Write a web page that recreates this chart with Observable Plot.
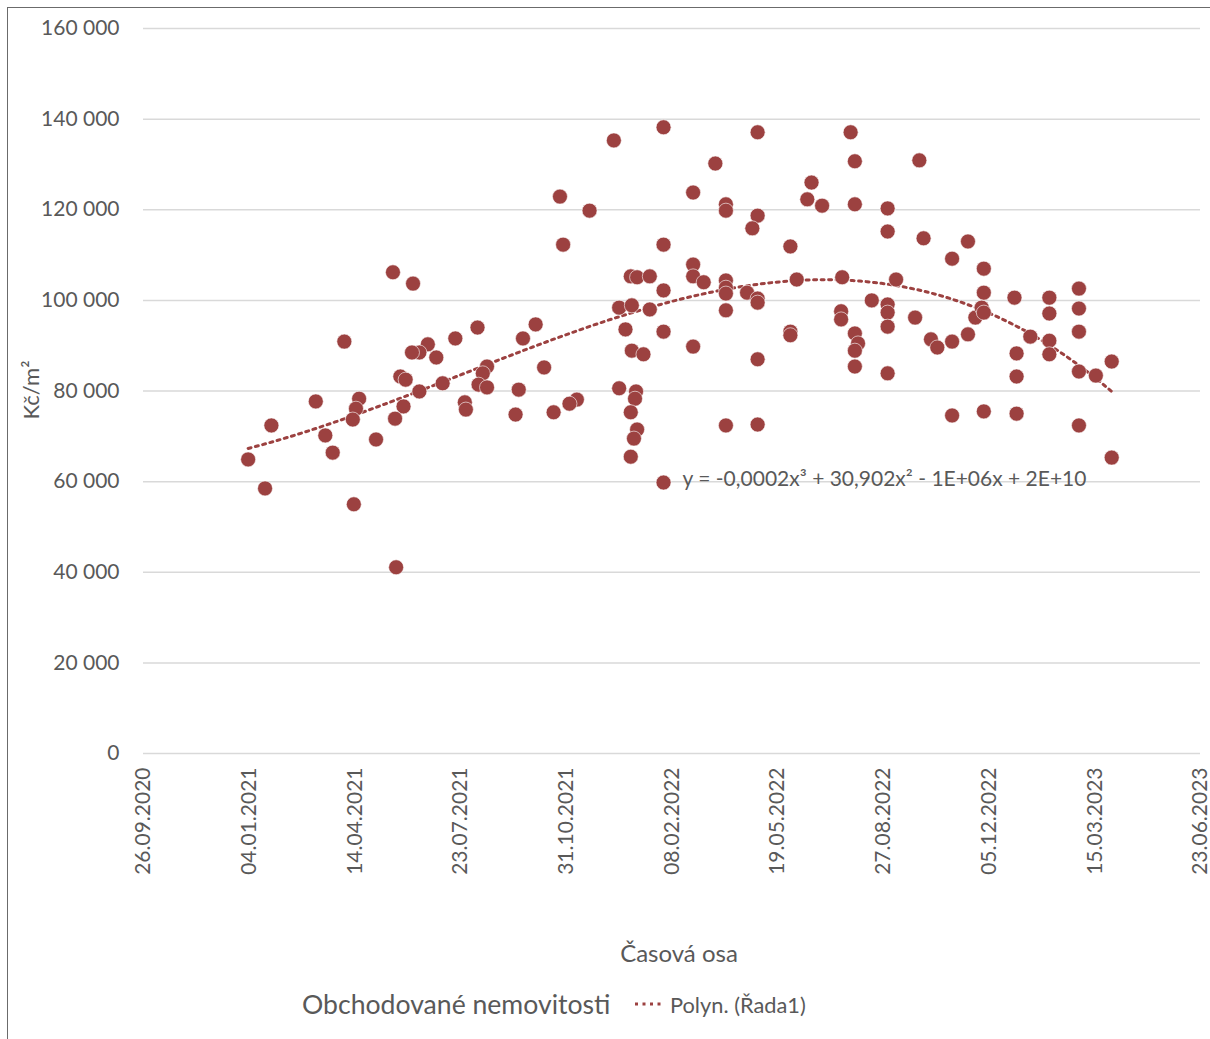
<!DOCTYPE html>
<html>
<head>
<meta charset="utf-8">
<script src="https://cdn.jsdelivr.net/npm/d3@7"></script>
<script src="https://cdn.jsdelivr.net/npm/@observablehq/plot@0.6"></script>
<style>
  body { margin: 0; background: #fff; }
  #wrap { position: relative; width: 1210px; height: 1039px; overflow: hidden; font-family: Lato, "Open Sans", sans-serif; color: #595959; }
  #frame { position: absolute; left: 7px; top: 7px; width: 1300px; height: 1100px; border-left: 1.5px solid #6b6b6b; border-top: 1.5px solid #6b6b6b; }
  #chart { position: absolute; left: 0; top: 0; }
  .ytitle { position: absolute; left: 30px; top: 390px; transform: translate(-50%, -50%) rotate(-90deg); font-size: 22px; white-space: nowrap; }
  .xtitle { position: absolute; left: 679px; top: 952px; transform: translate(-50%, -50%); font-size: 24px; white-space: nowrap; }
  .legend { position: absolute; top: 1004px; transform: translateY(-50%); white-space: nowrap; }
</style>
</head>
<body>
<div id="wrap">
  <div id="frame"></div>
  <div id="chart"></div>
  <div class="ytitle">Kč/m²</div>
  <div class="xtitle">Časová osa</div>
  <div class="legend" style="left:302px; font-size:26.6px;">Obchodované nemovitosti</div>
  <svg class="legend" style="left:633px; top:1004px;" width="32" height="6"><line x1="2" y1="3" x2="32" y2="3" stroke="#9c4140" stroke-width="3" stroke-dasharray="3 4.5"/></svg>
  <div class="legend" style="left:670px; font-size:21.8px;">Polyn. (Řada1)</div>
</div>
<script>
// ---- data ----
const dates = [
"2021-05-20","2021-06-08","2021-04-04","2021-08-08","2021-07-18","2021-09-20","2021-10-02","2021-06-22","2021-06-14","2021-06-07",
"2021-06-30","2021-05-27","2021-06-01","2021-07-06","2021-06-14","2021-04-18","2021-04-15","2021-04-12","2021-03-08","2021-01-25",
"2021-03-17","2021-03-24","2021-01-03","2021-01-19","2021-04-13","2021-05-23","2021-05-30","2021-05-22","2021-05-04","2021-07-27",
"2021-07-28","2021-08-17","2021-08-13","2021-08-09","2021-08-17","2021-09-16","2021-09-13",
"2021-12-15","2022-01-31","2022-04-30","2022-03-21","2021-10-25","2021-11-22","2022-02-28","2022-03-31","2022-03-31","2022-04-30",
"2022-04-25","2021-10-28","2022-01-31","2022-02-28","2022-02-28","2022-03-10","2021-12-31","2022-01-06","2022-01-18","2022-01-31",
"2022-03-31","2022-03-31","2022-03-31","2022-04-20","2022-04-30","2022-04-30","2021-12-20","2022-01-01","2022-01-18","2022-03-31",
"2021-12-26","2022-01-31","2022-02-28","2022-01-01","2022-01-12","2021-10-10","2022-04-30","2021-12-20","2022-01-05","2022-01-04",
"2021-11-10","2021-11-03","2021-10-19","2021-12-31","2022-01-06","2022-01-03","2021-12-31","2022-03-31","2022-04-30","2022-01-31",
"2022-07-27","2022-07-31","2022-09-30","2022-06-20","2022-06-16","2022-06-30","2022-07-31","2022-08-31","2022-08-31","2022-10-04",
"2022-11-15","2022-10-31","2022-11-30","2022-05-31","2022-06-06","2022-07-19","2022-09-08","2022-08-16","2022-08-31","2022-08-31",
"2022-08-31","2022-07-18","2022-07-18","2022-09-26","2022-11-22","2022-11-15","2022-10-11","2022-10-17","2022-10-31","2022-05-31",
"2022-05-31","2022-07-31","2022-08-03","2022-07-31","2022-07-31","2022-08-31","2022-10-31",
"2022-11-30","2022-11-28","2022-11-30","2022-12-29","2023-01-31","2023-01-31","2023-02-28","2023-02-28","2023-02-28","2023-01-13",
"2023-01-31","2023-01-31","2022-12-31","2022-12-31","2023-02-28","2023-03-16","2023-03-31","2022-11-30","2022-12-31","2023-02-28",
"2023-03-31"
];
const prices = [
106200,103700,90900,94000,91600,91600,94700,90300,88500,88500,
87400,83200,82500,81700,79900,78300,76100,73700,77700,72400,
70200,66400,64900,58500,55000,41100,76600,73900,69300,77500,
75900,85400,83900,81400,80800,80300,74800,
135300,138200,137100,130200,122900,119800,123800,121200,119800,118700,
115900,112300,112300,107900,105300,104000,105300,105100,105300,102200,
104400,102800,101500,101700,100400,99500,98400,98900,98000,97800,
93600,93100,89800,88900,88100,85200,87000,80600,79900,78300,
78100,77200,75300,75300,71500,69500,65500,72400,72600,59800,
137100,130700,130900,126000,122300,120900,121200,120300,115200,113700,
113000,109200,107000,111900,104600,105100,104600,100000,99100,97300,
94200,97600,95800,96200,96200,92500,91400,89600,90900,93100,
92300,92700,90500,88900,85400,83900,74600,
101700,98400,97300,100600,100600,97100,102600,98200,93100,92000,
91100,88100,88300,83200,84300,83400,86500,75500,75000,72400,
65300
];
const xTickDates = ["2020-09-26","2021-01-04","2021-04-14","2021-07-23","2021-10-31","2022-02-08","2022-05-19","2022-08-27","2022-12-05","2023-03-15","2023-06-23"];
const yTicks = [0, 20000, 40000, 60000, 80000, 100000, 120000, 140000, 160000];
const equationText = "y = -0,0002x³ + 30,902x² - 1E+06x + 2E+10";
const equationAnchor = {date: "2022-02-18", value: 60500};

// ---- build ----
const parse = d3.utcParse("%Y-%m-%d");
const data = dates.map((d, i) => ({date: parse(d), price: prices[i]}));

// cubic least-squares trendline (Excel "Polyn." order 3)
const DAY = 86400000;
const t0 = +parse("2022-01-01");
const tx = d => (+d - t0) / DAY / 300;
const A = Array.from({length: 4}, () => new Array(5).fill(0));
for (const p of data) {
  const t = tx(p.date);
  const pw = [1, t, t * t, t * t * t];
  for (let r = 0; r < 4; r++) {
    for (let c = 0; c < 4; c++) A[r][c] += pw[r] * pw[c];
    A[r][4] += pw[r] * p.price;
  }
}
for (let i = 0; i < 4; i++) {
  let m = i;
  for (let k = i + 1; k < 4; k++) if (Math.abs(A[k][i]) > Math.abs(A[m][i])) m = k;
  [A[i], A[m]] = [A[m], A[i]];
  for (let k = 0; k < 4; k++) if (k !== i) {
    const f = A[k][i] / A[i][i];
    for (let c = i; c < 5; c++) A[k][c] -= f * A[i][c];
  }
}
const coef = A.map((row, i) => row[4] / row[i]);
const [dmin, dmax] = d3.extent(data, d => d.date);
const trend = d3.range(0, 121).map(i => {
  const date = new Date(+dmin + (dmax - dmin) * i / 120);
  const t = tx(date);
  return {date, price: coef[0] + coef[1] * t + coef[2] * t * t + coef[3] * t * t * t};
});

const locale = d3.formatLocale({decimal: ",", thousands: "\u00a0", grouping: [3], currency: ["", ""]});
const yFmt = locale.format(",.0f");
const xFmt = d3.utcFormat("%d.%m.%Y");

const chart = Plot.plot({
  width: 1210,
  height: 900,
  marginTop: 28,
  marginBottom: 147,
  marginLeft: 143,
  marginRight: 10,
  style: {fontFamily: "Lato, 'Open Sans', sans-serif", fontSize: "21px", color: "#595959", background: "transparent"},
  x: {type: "utc", domain: [parse(xTickDates[0]), parse(xTickDates[xTickDates.length - 1])]},
  y: {domain: [0, 160000]},
  marks: [
    Plot.ruleY(yTicks, {stroke: "#d9d9d9", strokeWidth: 1.5}),
    Plot.axisY({ticks: yTicks, tickSize: 0, tickPadding: 24, tickFormat: yFmt, label: null, fontSize: 21, fill: "#595959"}),
    Plot.axisX({ticks: xTickDates.map(parse), tickSize: 0, tickPadding: 14, tickRotate: -90, tickFormat: xFmt, label: null, fontSize: 21, fill: "#595959"}),
    Plot.line(trend, {x: "date", y: "price", stroke: "#9c4140", strokeWidth: 3, strokeDasharray: "3 4.5", curve: "linear"}),
    Plot.dot(data, {x: "date", y: "price", r: 7.5, fill: "#9c4140", stroke: "#ffffff", strokeWidth: 0.6}),
    Plot.text([equationAnchor], {x: d => parse(d.date), y: "value", text: () => equationText, textAnchor: "start", fontSize: 21, fill: "#595959"})
  ]
});
document.getElementById("chart").appendChild(chart);
</script>
</body>
</html>
